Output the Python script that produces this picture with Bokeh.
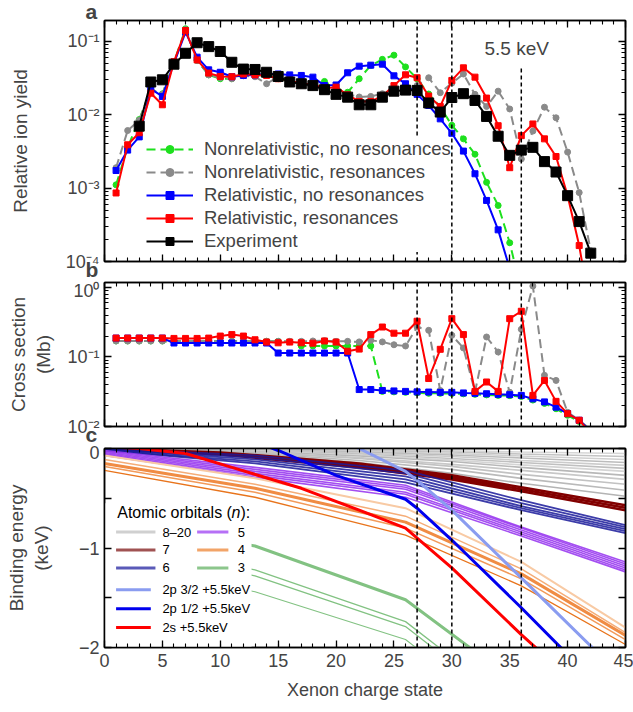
from bokeh.plotting import figure
from bokeh.layouts import column
from bokeh.models import (Range1d, Legend, LegendItem, LogAxis, LinearAxis, FixedTicker,
                          CustomJSTickFormatter, Label, Title)
from bokeh.embed import file_html
from bokeh.resources import INLINE
from bokeh.core.properties import value

FONT = "Liberation Sans"

# ---------------- data: panel a (relative ion yield) ----------------
q_nr_nores = list(range(1, 37))
y_nr_nores = [0.00111, 0.0036, 0.0086, 0.022, 0.0193, 0.052, 0.149, 0.055, 0.035, 0.031,
              0.031, 0.035, 0.034, 0.035, 0.031, 0.0285, 0.0265, 0.025, 0.0285, 0.023,
              0.0203, 0.031, 0.047, 0.057, 0.065, 0.045, 0.031, 0.0192, 0.0128, 0.0072,
              0.0047, 0.0029, 0.0012, 0.00058, 0.00018, 0.00004]
q_nr_res = list(range(1, 43))
y_nr_res = [0.0019, 0.0061, 0.0084, 0.022, 0.019, 0.050, 0.145, 0.055, 0.035, 0.032,
            0.031, 0.034, 0.033, 0.0265, 0.033, 0.0285, 0.0265, 0.024, 0.022, 0.022,
            0.019, 0.0175, 0.0178, 0.0194, 0.0215, 0.0233, 0.025, 0.032, 0.020, 0.027,
            0.036, 0.019, 0.013, 0.021, 0.012, 0.0025, 0.006, 0.0127, 0.0091, 0.0031,
            0.00087, 0.00014]
q_r_nores = list(range(1, 36))
y_r_nores = [0.00174, 0.0033, 0.005, 0.0226, 0.0178, 0.0506, 0.134, 0.061, 0.041, 0.038,
             0.033, 0.0344, 0.035, 0.036, 0.036, 0.035, 0.0344, 0.0326, 0.025, 0.0255,
             0.0374, 0.046, 0.0475, 0.049, 0.034, 0.0265, 0.019, 0.0134, 0.0088, 0.0056,
             0.0032, 0.00157, 0.00068, 0.00027, 0.00008]
q_r_res = list(range(1, 43))
y_r_res = [0.00086, 0.0039, 0.0057, 0.0197, 0.0137, 0.053, 0.141, 0.056, 0.037, 0.0333,
           0.033, 0.036, 0.035, 0.0344, 0.031, 0.0295, 0.0265, 0.026, 0.023, 0.0238,
           0.0187, 0.0152, 0.0152, 0.018, 0.025, 0.0351, 0.032, 0.018, 0.013, 0.0294,
           0.0437, 0.0326, 0.0169, 0.0071, 0.0019, 0.0052, 0.0075, 0.0047, 0.0027, 0.00079,
           0.000165, 0.00002]
q_exp = list(range(3, 43))
y_exp = [0.0070, 0.028, 0.030, 0.049, 0.069, 0.096, 0.085, 0.073, 0.052, 0.042,
         0.0415, 0.038, 0.0333, 0.028, 0.0265, 0.025, 0.022, 0.019, 0.0174, 0.0137,
         0.0137, 0.0174, 0.021, 0.0217, 0.0215, 0.0145, 0.0109, 0.0172, 0.0194, 0.0157,
         0.0095, 0.0051, 0.0028, 0.0033, 0.0036, 0.0023, 0.00166, 0.00079, 0.00035, 0.00013]

series_labels = ["Nonrelativistic, no resonances", "Nonrelativistic, resonances",
                 "Relativistic, no resonances", "Relativistic, resonances", "Experiment"]

# ---------------- data: panel b (cross section, Mb) ----------------
cs_q = list(range(1, 43))
cs_nr_nores = [0.17, 0.17, 0.17, 0.17, 0.17, 0.168, 0.168, 0.168, 0.168, 0.168,
               0.168, 0.168, 0.168, 0.168, 0.168, 0.166, 0.144, 0.144, 0.144, 0.144,
               0.144, 0.144, 0.144, 0.032, 0.0315, 0.031, 0.0305, 0.030, 0.030, 0.0298,
               0.0295, 0.029, 0.0285, 0.028, 0.0278, 0.027, 0.024, 0.0215, 0.018, 0.0145,
               0.0118, 0.009]
cs_nr_res = [0.17, 0.17, 0.17, 0.17, 0.17, 0.168, 0.168, 0.168, 0.168, 0.168,
             0.168, 0.168, 0.168, 0.168, 0.168, 0.168, 0.168, 0.17, 0.172, 0.168,
             0.168, 0.165, 0.174, 0.165, 0.15, 0.144, 0.27, 0.242, 0.033, 0.205,
             0.135, 0.0315, 0.194, 0.118, 0.031, 0.25, 1.05, 0.0545, 0.046, 0.016,
             0.0123, 0.009]
cs_r_nores = [0.187, 0.187, 0.187, 0.187, 0.187, 0.159, 0.159, 0.159, 0.159, 0.159,
              0.159, 0.159, 0.159, 0.159, 0.114, 0.114, 0.114, 0.114, 0.114, 0.114,
              0.114, 0.034, 0.034, 0.033, 0.0325, 0.032, 0.0315, 0.0313, 0.031, 0.031,
              0.0304, 0.030, 0.0296, 0.029, 0.0287, 0.028, 0.025, 0.0226, 0.019, 0.0153,
              0.0123, 0.0085]
cs_r_res = [0.187, 0.187, 0.187, 0.187, 0.187, 0.185, 0.185, 0.185, 0.187, 0.20,
            0.21, 0.20, 0.177, 0.164, 0.16, 0.164, 0.16, 0.158, 0.17, 0.164,
            0.121, 0.13, 0.21, 0.27, 0.22, 0.22, 0.327, 0.049, 0.129, 0.356,
            0.21, 0.032, 0.0437, 0.032, 0.356, 0.455, 0.028, 0.046, 0.023, 0.0153,
            0.0123, 0.008]

# ---------------- data: panel c (binding energies, keV) ----------------
orb_q_n8 = [0, 10, 22, 30, 36, 45]
orb_e_n8 = [[0, -0.003, -0.013, -0.022, -0.035, -0.05],
            [0, -0.004, -0.020, -0.035, -0.055, -0.08],
            [0, -0.005, -0.028, -0.050, -0.075, -0.11],
            [0, -0.006, -0.035, -0.065, -0.095, -0.14],
            [0, -0.008, -0.045, -0.080, -0.120, -0.17],
            [0, -0.010, -0.055, -0.100, -0.140, -0.20],
            [0, -0.012, -0.065, -0.115, -0.165, -0.23],
            [0, -0.015, -0.075, -0.130, -0.190, -0.27],
            [0, -0.018, -0.090, -0.160, -0.220, -0.31],
            [0, -0.020, -0.100, -0.180, -0.260, -0.36],
            [0, -0.025, -0.120, -0.210, -0.300, -0.42],
            [0, -0.030, -0.140, -0.250, -0.350, -0.48]]
orb_q_n7 = [0, 10, 22, 30, 36, 45]
orb_e_n7 = [[0, -0.04, -0.15, -0.27, -0.39, -0.57],
            [0, -0.05, -0.17, -0.29, -0.41, -0.595],
            [0, -0.06, -0.19, -0.31, -0.43, -0.62]]
orb_q_n6 = [0, 13, 26, 36, 45]
orb_e_n6 = [[0.0, -0.07, -0.22, -0.52, -0.77],
            [-0.01, -0.09, -0.25, -0.55, -0.79],
            [-0.01, -0.11, -0.28, -0.58, -0.81],
            [-0.02, -0.13, -0.31, -0.60, -0.83],
            [-0.02, -0.15, -0.34, -0.62, -0.85]]
orb_q_n5 = [0, 13, 26, 36, 45]
orb_e_n5 = [[-0.02, -0.19, -0.37, -0.79, -1.14],
            [-0.03, -0.21, -0.39, -0.80, -1.16],
            [-0.04, -0.23, -0.41, -0.82, -1.18],
            [-0.05, -0.25, -0.44, -0.84, -1.20],
            [-0.06, -0.27, -0.46, -0.86, -1.22],
            [-0.07, -0.29, -0.49, -0.88, -1.24]]
orb_q_n4 = [0, 13, 26, 36, 45]
orb_e_n4 = [[-0.07, -0.30, -0.60, -1.14, -1.80],
            [-0.11, -0.36, -0.68, -1.21, -1.85],
            [-0.15, -0.40, -0.74, -1.26, -1.88],
            [-0.18, -0.44, -0.80, -1.31, -1.92],
            [-0.22, -0.49, -0.87, -1.38, -1.97]]
orb_q_n3 = [[0, 13, 26, 32], [0, 13, 26, 30], [0, 13, 26, 30], [0, 13, 26, 28]]
orb_e_n3 = [[-0.72, -0.98, -1.52, -2.04],
            [-0.93, -1.22, -1.74, -2.10],
            [-0.97, -1.28, -1.79, -2.15],
            [-1.14, -1.44, -1.92, -2.10]]
q_2p32 = [21, 22, 26, 27, 30, 36, 43]
e_2p32 = [0.05, 0.0, -0.23, -0.32, -0.62, -1.30, -2.10]
q_2p12 = [13, 15, 20, 26, 27, 30, 36, 40]
e_2p12 = [0.07, -0.02, -0.27, -0.51, -0.60, -0.92, -1.60, -2.07]
q_2s = [0, 3, 7, 11, 17, 22, 26, 30, 36, 38]
e_2s = [0.02, 0.0, -0.05, -0.19, -0.40, -0.62, -0.80, -1.20, -1.87, -2.08]

orb_labels_left = ["8\u201320", "7", "6"]
orb_labels_right = ["5", "4", "3"]
core_labels = ["2p 3/2 +5.5keV", "2p 1/2 +5.5keV", "2s +5.5keV"]

dash_q = [27, 30, 36]
x_major = [0, 5, 10, 15, 20, 25, 30, 35, 40, 45]
x_minor = list(range(0, 46))

# ---------------- helpers ----------------
xr = Range1d(0, 45)
blank = CustomJSTickFormatter(code="return ''")
sup_fmt = CustomJSTickFormatter(code="""
const e = Math.round(Math.log10(tick));
const m = {'-':'\u207b','0':'\u2070','1':'\u00b9','2':'\u00b2','3':'\u00b3','4':'\u2074','5':'\u2075'};
return '10' + String(e).split('').map(c => m[c]).join('');
""")
lin_fmt = CustomJSTickFormatter(code="""
if (Math.abs(tick - Math.round(tick)) > 1e-6) return '';
return tick == 0 ? '0' : '\u2212' + Math.abs(Math.round(tick));
""")


def style_axis(ax, labels=True):
    ax.axis_line_color = "black"
    ax.axis_line_width = 1.5
    ax.major_tick_in = 7
    ax.major_tick_out = 0
    ax.minor_tick_in = 4
    ax.minor_tick_out = 0
    ax.major_tick_line_width = 1.3
    ax.minor_tick_line_width = 1.1
    ax.major_label_text_font = FONT
    ax.major_label_text_font_size = "18px"
    ax.axis_label_text_font = FONT
    ax.axis_label_text_font_size = "19px"
    ax.axis_label_text_font_style = "normal"
    ax.major_label_standoff = 5
    if not labels:
        ax.formatter = blank
        ax.major_label_text_font_size = "1px"
        ax.major_label_standoff = 0


def make_fig(height, y_range, y_type, top, bottom, y_ticks, y_minor, y_fmt, xlabels=False):
    p = figure(width=633, height=height, x_range=xr, y_range=y_range, y_axis_type=y_type,
               output_backend="svg", toolbar_location=None,
               min_border_left=104, min_border_right=8, min_border_top=top,
               min_border_bottom=bottom)
    p.grid.visible = False
    p.outline_line_color = "black"
    p.outline_line_width = 1.5
    xt = FixedTicker(ticks=x_major, minor_ticks=x_minor)
    yt = FixedTicker(ticks=y_ticks, minor_ticks=y_minor)
    bottom_ax = p.below[0]
    left_ax = p.left[0]
    bottom_ax.ticker = xt
    left_ax.ticker = yt
    left_ax.formatter = y_fmt
    style_axis(bottom_ax, labels=xlabels)
    style_axis(left_ax, labels=True)
    top_ax = LinearAxis(ticker=xt)
    style_axis(top_ax, labels=False)
    p.add_layout(top_ax, "above")
    right_ax = LogAxis(ticker=yt) if y_type == "log" else LinearAxis(ticker=yt)
    style_axis(right_ax, labels=False)
    p.add_layout(right_ax, "right")
    return p, bottom_ax, left_ax


def log_minor(exps):
    return [m * 10.0 ** e for e in exps for m in range(2, 10)]


def panel_letter(p, t, side, standoff):
    p.add_layout(Title(text=t, align="left", offset=-19, standoff=standoff, text_font=FONT,
                       text_font_size="21px", text_font_style="bold"), side)


# ---------------- panel a ----------------
ya = Range1d(1e-4, 0.193)
pa, pa_bottom, pa_left = make_fig(280, ya, "log", 20, 19, [1e-4, 1e-3, 1e-2, 1e-1],
                                  log_minor([-4, -3, -2, -1]), sup_fmt)
pa_left.axis_label = "Relative ion yield"
pa_left.axis_label_standoff = 32

GREEN = "#1ee01e"
GRAY = "#8a8a8a"
l1 = pa.line(q_nr_nores, y_nr_nores, line_color=GREEN, line_width=2, line_dash="9 5")
s1 = pa.scatter(q_nr_nores, y_nr_nores, marker="circle", size=6, color=GREEN)
l2 = pa.line(q_nr_res, y_nr_res, line_color=GRAY, line_width=2, line_dash="9 5")
s2 = pa.scatter(q_nr_res, y_nr_res, marker="circle", size=6, color=GRAY)
l3 = pa.line(q_r_nores, y_r_nores, line_color="#0000ff", line_width=2)
s3 = pa.scatter(q_r_nores, y_r_nores, marker="square", size=6, color="#0000ff")
l4 = pa.line(q_r_res, y_r_res, line_color="#ff0000", line_width=2)
s4 = pa.scatter(q_r_res, y_r_res, marker="square", size=6, color="#ff0000")
l5 = pa.line(q_exp, y_exp, line_color="black", line_width=2)
s5 = pa.scatter(q_exp, y_exp, marker="square", size=10, color="black")
pa.segment(x0=dash_q, x1=dash_q, y0=[ya.start] * 3, y1=[ya.end, ya.end, 0.043],
           line_color="black", line_width=1.5, line_dash="4 3")
items = [LegendItem(label=lab, renderers=rs) for lab, rs in
         zip(series_labels, [[l1, s1], [l2, s2], [l3, s3], [l4, s4], [l5, s5]])]
leg = Legend(items=items, location=(42, 9), label_text_font=FONT,
             label_text_font_size="18.5px", glyph_width=47, glyph_height=20,
             label_height=20, label_standoff=11, spacing=1, padding=0, margin=0,
             background_fill_color="white", background_fill_alpha=1.0, border_line_alpha=0)
pa.add_layout(leg)
pa.add_layout(Label(x=35.6, y=0.08, text="5.5 keV", text_font=FONT, text_font_size="19px",
                    text_align="center", text_baseline="middle"))
panel_letter(pa, "a", "above", -5)
panel_letter(pa, "b", "below", -12)   # sits in the gap above panel b

# ---------------- panel b ----------------
yb = Range1d(0.01, 1.18)
pb, pb_bottom, pb_left = make_fig(165, yb, "log", 2, 19, [1e-2, 1e-1, 1.0],
                                  log_minor([-2, -1, 0]), sup_fmt)
pb_left.axis_label = "Cross section\n(Mb)"
pb_left.axis_label_standoff = 10
pb.line(cs_q, cs_nr_nores, line_color=GREEN, line_width=2, line_dash="9 5")
pb.scatter(cs_q, cs_nr_nores, marker="circle", size=6, color=GREEN)
pb.line(cs_q, cs_nr_res, line_color=GRAY, line_width=2, line_dash="9 5")
pb.scatter(cs_q, cs_nr_res, marker="circle", size=6, color=GRAY)
pb.line(cs_q, cs_r_nores, line_color="#0000ff", line_width=2)
pb.scatter(cs_q, cs_r_nores, marker="square", size=6, color="#0000ff")
pb.line(cs_q, cs_r_res, line_color="#ff0000", line_width=2)
pb.scatter(cs_q, cs_r_res, marker="square", size=6, color="#ff0000")
pb.segment(x0=dash_q, x1=dash_q, y0=[yb.start] * 3, y1=[yb.end] * 3,
           line_color="black", line_width=1.5, line_dash="4 3")
panel_letter(pb, "c", "below", -12)   # sits in the gap above panel c

# ---------------- panel c ----------------
yc = Range1d(-2, 0)
pc, pc_bottom, pc_left = make_fig(262, yc, "linear", 3, 60, [-2, -1.5, -1, -0.5, 0], [],
                                  lin_fmt, xlabels=True)
pc_left.axis_label = "Binding energy\n(keV)"
pc_left.axis_label_standoff = 24
pc_bottom.axis_label = "Xenon charge state"
pc_bottom.axis_label_text_font_size = "18px"
pc_bottom.major_label_standoff = 6
pc_bottom.axis_label_standoff = 10

gray_cols = ["#d6d6d6", "#c4c4c4", "#d0d0d0", "#bcbcbc", "#cccccc", "#c0c0c0",
             "#d4d4d4", "#b8b8b8", "#c8c8c8", "#c2c2c2", "#bababa", "#b4b4b4"]
pc.multi_line([orb_q_n8] * len(orb_e_n8), orb_e_n8, line_color=gray_cols, line_width=1.6)
pc.multi_line([orb_q_n7] * len(orb_e_n7), orb_e_n7, line_color="#820000", line_width=2.6)
pc.multi_line([orb_q_n6] * len(orb_e_n6), orb_e_n6, line_color="#1a1a9a", line_width=1.8,
              line_alpha=0.85)
pc.multi_line([orb_q_n5] * len(orb_e_n5), orb_e_n5, line_color="#9a3cf0", line_width=1.6,
              line_alpha=0.9)
pc.multi_line([orb_q_n4] * len(orb_e_n4), orb_e_n4,
              line_color=["#f8caa4", "#f5ad78", "#f08c44", "#f29a5a", "#e8741c"],
              line_width=[2, 1.5, 3, 1.5, 1.3])
pc.multi_line(orb_q_n3, orb_e_n3, line_color="#82c282", line_width=[3, 1.3, 1.3, 1.1])
pc.line(q_2p32, e_2p32, line_color="#8a9cf0", line_width=3)
pc.line(q_2p12, e_2p12, line_color="#0000ee", line_width=3)
pc.line(q_2s, e_2s, line_color="#ff0000", line_width=3)

# legend of panel c (white box with samples)
leg_rows_top = [-0.84, -1.02, -1.20]
leg_rows_core = [-1.42, -1.61, -1.80]
pc.quad(left=[0], right=[12.7], top=[-0.55], bottom=[-2.0], fill_color="white", line_color=None)
pc.segment(x0=[1.0] * 3, x1=[4.4] * 3, y0=leg_rows_top, y1=leg_rows_top,
           line_color=["#d0d0d0", "#a05252", "#5a5ab8"], line_width=3)
pc.segment(x0=[8.0] * 3, x1=[10.7] * 3, y0=leg_rows_top, y1=leg_rows_top,
           line_color=["#b670f6", "#f2a468", "#8cc68c"], line_width=3)
pc.segment(x0=[1.0] * 3, x1=[4.0] * 3, y0=leg_rows_core, y1=leg_rows_core,
           line_color=["#8a9cf0", "#0000ee", "#ff0000"], line_width=3)
pc.text(x=[5.0] * 3, y=leg_rows_top, text=orb_labels_left, text_font=value(FONT),
        text_font_size="13px", text_baseline="middle")
pc.text(x=[11.5] * 3, y=leg_rows_top, text=orb_labels_right, text_font=value(FONT),
        text_font_size="13px", text_baseline="middle")
pc.text(x=[5.0] * 3, y=leg_rows_core, text=core_labels, text_font=value(FONT),
        text_font_size="13px", text_baseline="middle")
pc.text(x=[1.1], y=[-0.64], text=["Atomic orbitals ("], text_font=value(FONT),
        text_font_size="16px", text_baseline="middle")
pc.text(x=[10.98], y=[-0.64], text=["n"], text_font=value(FONT), text_font_size="16px",
        text_font_style="italic", text_baseline="middle")
pc.text(x=[11.75], y=[-0.64], text=["):"], text_font=value(FONT), text_font_size="16px",
        text_baseline="middle")

pc.segment(x0=dash_q, x1=dash_q, y0=[yc.start] * 3, y1=[yc.end] * 3,
           line_color="black", line_width=1.5, line_dash="4 3")

layout = column(pa, pb, pc)
open("out.html", "w").write(file_html(layout, INLINE))
